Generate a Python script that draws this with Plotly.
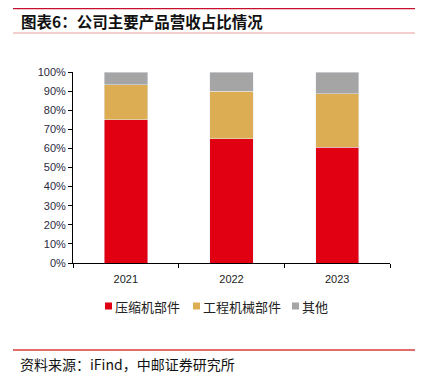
import plotly.graph_objects as go

years = ["2021", "2022", "2023"]
compressor = [75.0, 65.0, 60.6]
engineering = [18.2, 25.0, 27.9]
others = [6.8, 10.0, 11.5]

series_names = ["压缩机部件", "工程机械部件", "其他"]
series_colors = ["#E00012", "#DCAD52", "#A5A5A5"]

OFF = 8  # page body margin
W, H = 423 - OFF, 375 - OFF
L, R, T, B = 73 - OFF, 390 - OFF, 72 - OFF, 263 - OFF  # plot area in figure px

def px_x(x):
    return (x - OFF - L) / (R - L)

def px_y(y):
    return (B - (y - OFF)) / (B - T)

fig = go.Figure()
for name, vals, col in zip(series_names, [compressor, engineering, others], series_colors):
    fig.add_bar(x=years, y=vals, name=name, marker_color=col, showlegend=False)

fig.update_layout(
    barmode="stack",
    bargap=0.59,
    width=W, height=H,
    margin=dict(l=L, r=W - R, t=T, b=H - B),
    paper_bgcolor="white", plot_bgcolor="white",
    font=dict(family="Liberation Sans, Arial", size=11, color="#333"),
    showlegend=False,
    xaxis=dict(showline=True, linecolor="#000", linewidth=1, ticks="outside",
               tickson="boundaries", ticklen=4, tickcolor="#000", ticklabelstandoff=6,
               tickfont=dict(size=11, color="#222")),
    yaxis=dict(range=[0, 100], dtick=10, ticksuffix="%", showline=True, linecolor="#000",
               linewidth=1, ticks="outside", ticklen=4, tickcolor="#000", showgrid=False,
               zeroline=False, tickfont=dict(size=11, color="#2b2b40")),
)

# legend (manual, compact like the reference)
leg_sq_x = [105, 193, 292]
leg_y = 306
for name, col, sx in zip(series_names, series_colors, leg_sq_x):
    fig.add_shape(type="rect", xref="paper", yref="paper",
                  x0=px_x(sx), x1=px_x(sx + 7), y0=px_y(leg_y - 3.5), y1=px_y(leg_y + 3.5),
                  fillcolor=col, line=dict(width=0))
    fig.add_annotation(text=name, xref="paper", yref="paper",
                       x=px_x(sx + 8), y=px_y(leg_y), xanchor="left", yanchor="middle",
                       showarrow=False,
                       font=dict(family="Noto Sans CJK SC", size=13, color="#222"))

shapes = [
    dict(y=8, color="#C8102E", w=2.5),
    dict(y=33, color="#E8A0A0", w=1.2),
    dict(y=350, color="#D83A3A", w=1.5),
]
for s in shapes:
    fig.add_shape(type="line", xref="paper", yref="paper",
                  x0=px_x(13), x1=px_x(423), y0=px_y(s["y"]), y1=px_y(s["y"]),
                  line=dict(color=s["color"], width=s["w"]))

fig.add_annotation(text="<b>图表6：公司主要产品营收占比情况</b>", xref="paper", yref="paper",
                   x=px_x(19), y=px_y(21), xanchor="left", yanchor="middle", showarrow=False,
                   font=dict(family="Noto Sans CJK SC", size=15.5, color="#111"))
fig.add_annotation(text="资料来源：iFind，中邮证券研究所", xref="paper", yref="paper",
                   x=px_x(19), y=px_y(364), xanchor="left", yanchor="middle", showarrow=False,
                   borderpad=0,
                   font=dict(family="Noto Sans CJK SC", size=14, color="#111"))

fig.write_html("out.html")
